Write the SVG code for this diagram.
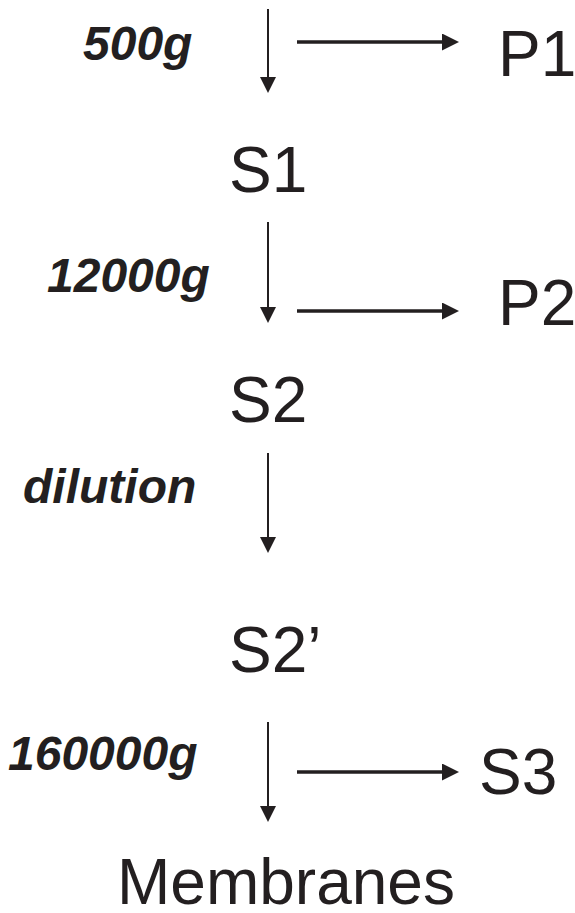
<svg xmlns="http://www.w3.org/2000/svg" width="575" height="913" viewBox="0 0 575 913">
  <style>
    .node { font-family: "Liberation Sans", Arial, sans-serif; font-size: 64px; fill: #231f20; }
    .step { font-family: "Liberation Sans", Arial, sans-serif; font-size: 48px; font-weight: bold; font-style: italic; fill: #231f20; }
    .down { stroke: #231f20; stroke-width: 2; fill: none; marker-end: url(#headDown); }
    .side { stroke: #231f20; stroke-width: 3.5; fill: none; marker-end: url(#headSide); }
  </style>
  <defs>
    <marker id="headDown" markerUnits="userSpaceOnUse" markerWidth="16" markerHeight="16" refX="0" refY="8" orient="auto">
      <path d="M0,0 L16,8 L0,16 Z" fill="#231f20"/>
    </marker>
    <marker id="headSide" markerUnits="userSpaceOnUse" markerWidth="17" markerHeight="17" refX="0" refY="8.5" orient="auto">
      <path d="M0,0 L17,8.5 L0,17 Z" fill="#231f20"/>
    </marker>
  </defs>
  <rect width="575" height="913" fill="#ffffff"/>

  <!-- fractions -->
  <g id="P1"><text class="node" x="498" y="76">P1</text></g>
  <g id="S1"><text class="node" x="229" y="192">S1</text></g>
  <g id="P2"><text class="node" x="498" y="325">P2</text></g>
  <g id="S2"><text class="node" x="229" y="422">S2</text></g>
  <g id="S2prime"><text class="node" x="229" y="672">S2’</text></g>
  <g id="S3"><text class="node" x="479" y="794">S3</text></g>
  <g id="Membranes"><text class="node" x="117" y="904">Membranes</text></g>

  <!-- flow arrows -->
  <g id="connectors">
    <line class="down" x1="268" y1="9" x2="268" y2="77"/>
    <line class="side" x1="297" y1="42" x2="442" y2="42"/>
    <line class="down" x1="268" y1="222" x2="268" y2="307"/>
    <line class="side" x1="297" y1="311" x2="442" y2="311"/>
    <line class="down" x1="268" y1="453" x2="268" y2="537"/>
    <line class="down" x1="268" y1="722" x2="268" y2="806"/>
    <line class="side" x1="297" y1="772" x2="442" y2="772"/>
  </g>

  <!-- step conditions -->
  <g id="labels">
    <text class="step" x="83" y="60">500g</text>
    <text class="step" x="47" y="292">12000g</text>
    <text class="step" x="23" y="503">dilution</text>
    <text class="step" x="8" y="770">160000g</text>
  </g>
</svg>
